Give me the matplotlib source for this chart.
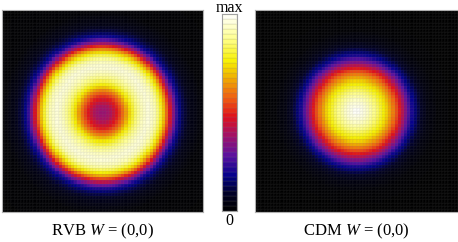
import matplotlib
matplotlib.use("Agg")
import matplotlib.pyplot as plt
import numpy as np
from matplotlib.colors import LinearSegmentedColormap

# radial intensity profiles (r as fraction of half width)
rvb_r = [0.0, 0.08, 0.15, 0.22, 0.27, 0.33, 0.40, 0.46, 0.52, 0.57, 0.62, 0.66, 0.70, 0.74, 0.80, 0.88, 1.0, 1.45]
rvb_v = [0.36, 0.40, 0.49, 0.62, 0.74, 0.85, 0.93, 0.96, 0.92, 0.82, 0.68, 0.52, 0.35, 0.22, 0.12, 0.05, 0.01, 0.0]
cdm_r = [0.0, 0.10, 0.20, 0.30, 0.38, 0.44, 0.50, 0.55, 0.62, 0.70, 0.80, 1.0, 1.45]
cdm_v = [1.0, 0.95, 0.85, 0.72, 0.58, 0.45, 0.30, 0.20, 0.10, 0.04, 0.01, 0.0, 0.0]

labels = [r"RVB $W$ = (0,0)", r"CDM $W$ = (0,0)"]
cbar_ticks = ["0", "max"]

stops = [0.0, 0.08, 0.18, 0.28, 0.38, 0.48, 0.58, 0.68, 0.76, 0.88, 1.0]
stop_colors = ["#000000", "#000020", "#00008a", "#5a10a0", "#a0106a", "#e0101a",
               "#f06010", "#f0b000", "#f8f000", "#ffff90", "#ffffff"]
cmap = LinearSegmentedColormap.from_list("heat", list(zip(stops, stop_colors)))

plt.rcParams["font.family"] = "Liberation Serif"
plt.rcParams["mathtext.fontset"] = "custom"
plt.rcParams["mathtext.rm"] = "Liberation Serif"
plt.rcParams["mathtext.it"] = "Liberation Serif:italic"

n = 64
edges = np.linspace(-1, 1, n + 1)
mid = 0.5 * (edges[:-1] + edges[1:])
xx, yy = np.meshgrid(mid, mid)

fig = plt.figure(figsize=(4.58, 2.42), dpi=100)
W, H = 458.0, 242.0


def ax_px(x0, y0, x1, y1):
    return fig.add_axes([x0 / W, 1 - y1 / H, (x1 - x0) / W, (y1 - y0) / H])


panels = [(ax_px(2, 10, 203, 212), rvb_r, rvb_v, (0.0, 0.02)),
          (ax_px(255, 10, 458, 212), cdm_r, cdm_v, (0.0, 0.0))]
for (ax, pr, pv, (cx, cy)), lab in zip(panels, labels):
    z = np.interp(np.hypot(xx - cx, yy + cy), pr, pv)
    ax.pcolormesh(edges, edges, z, cmap=cmap, vmin=0, vmax=1,
                  edgecolors=(0.5, 0.5, 0.5, 0.05), linewidth=0.3)
    ax.set_xlim(-1, 1)
    ax.set_ylim(-1, 1)
    ax.set_xticks([])
    ax.set_yticks([])
    for s in ax.spines.values():
        s.set_color("#b0b0b0")
        s.set_linewidth(0.8)
    ax.set_xlabel(lab, fontsize=12, labelpad=7)

cax = ax_px(222, 14, 237, 211)
levels = np.linspace(0, 1, 41)
cax.pcolormesh([0, 1], levels, (0.5 * (levels[:-1] + levels[1:]))[:, None],
               cmap=cmap, vmin=0, vmax=1, edgecolors=(0.5, 0.5, 0.5, 0.08), linewidth=0.3)
cax.set_xlim(0, 1)
cax.set_ylim(0, 1)
cax.set_xticks([])
cax.set_yticks([])
for s in cax.spines.values():
    s.set_color("#a0a0a0")
    s.set_linewidth(0.8)
cax.text(0.5, -0.01, cbar_ticks[0], transform=cax.transAxes, ha="center", va="top", fontsize=11.5)
cax.text(0.5, 1.012, cbar_ticks[1], transform=cax.transAxes, ha="center", va="baseline", fontsize=11.5)

fig.savefig("out.png", dpi=100)
